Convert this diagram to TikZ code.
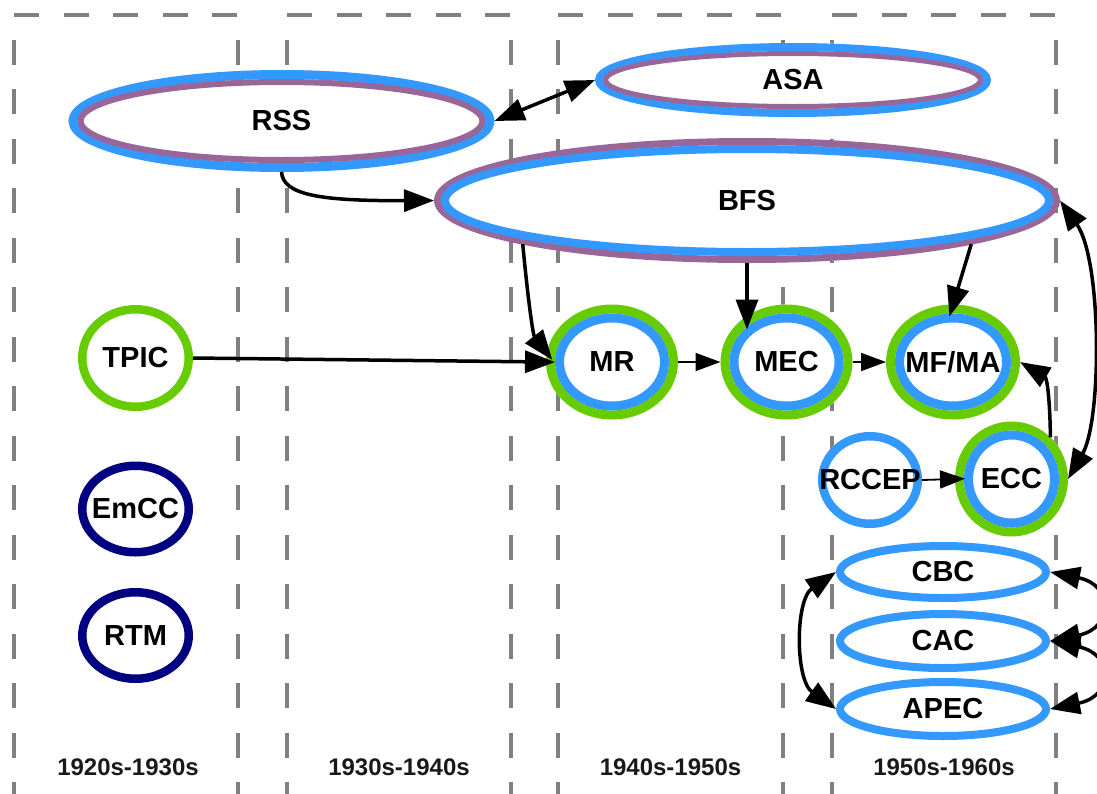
\documentclass[tikz,border=0pt]{standalone}
\usepackage{fontspec}
\setmainfont{Liberation Sans}
\usetikzlibrary{arrows.meta,shapes.geometric,calc}
\definecolor{cblue}{HTML}{3399FF}
\definecolor{cpurple}{HTML}{996699}
\definecolor{cgreen}{HTML}{66CC00}
\definecolor{cnavy}{HTML}{000080}
\definecolor{cgray}{HTML}{808080}
\pgfdeclarelayer{frames}
\pgfdeclarelayer{rings}
\pgfsetlayers{frames,rings,main}
\newcommand\drawring[5]{\draw[#1,line width=#2pt] (#3.center) ellipse [x radius=#4pt, y radius=#5pt];}
\newcommand\whitefill[3]{\fill[white] (#1.center) ellipse [x radius=#2pt, y radius=#3pt];}
\begin{document}
\begin{tikzpicture}[x=1pt,y=-1pt,
  nd/.style={ellipse, inner sep=0pt, outer sep=0pt, font=\fontsize{29}{34}\selectfont\bfseries},
  lbl/.style={font=\fontsize{24}{28}\selectfont\bfseries, text=black!90},
  frm/.style={cgray, line width=3.5pt, dash pattern=on 25pt off 24.5pt},
  frmv/.style={frm, dash phase=25pt},
  conn/.style={line width=3.5pt, black, -{Triangle[length=30pt,width=22pt]}},
  dconn/.style={line width=3.5pt, black, {Triangle[length=30pt,width=22pt]}-{Triangle[length=30pt,width=22pt]}},
  tconn/.style={line width=1.8pt, black, -{Triangle[length=25pt,width=18pt]}}
]
\useasboundingbox (0,0) rectangle (1097,793);

% cluster frames
\begin{pgfonlayer}{frames}
\foreach \l/\r in {14/238, 287/511, 558/783, 832/1056}{
  \draw[frm] (\l,15) -- (\r,15);
  \draw[frmv] (\l,15) -- (\l,810);
  \draw[frmv] (\r,15) -- (\r,810);
}
\end{pgfonlayer}

% cluster labels
\node[lbl] (L1) at (128,767) {1920s-1930s};
\node[lbl] (L2) at (399,767) {1930s-1940s};
\node[lbl] (L3) at (670.5,767) {1940s-1950s};
\node[lbl] (L4) at (944,767) {1950s-1960s};

% nodes
\node[nd, minimum width=426pt, minimum height=102pt] (RSS) at (281.5,121) {\makebox[0pt]{RSS}};
\node[nd, minimum width=396pt, minimum height=74pt] (ASA) at (793,80) {\makebox[0pt]{ASA}};
\node[nd, minimum width=626pt, minimum height=125pt] (BFS) at (747,200.5) {\makebox[0pt]{BFS}};
\node[nd, minimum width=115pt, minimum height=106pt] (TPIC) at (135.5,358) {\makebox[0pt]{TPIC}};
\node[nd, minimum width=115pt, minimum height=95pt] (EmCC) at (135.5,509) {\makebox[0pt]{EmCC}};
\node[nd, minimum width=115pt, minimum height=95pt] (RTM) at (135.5,635.5) {\makebox[0pt]{RTM}};
\node[nd, minimum width=132pt, minimum height=115pt] (MR) at (612,362) {\makebox[0pt]{MR}};
\node[nd, minimum width=132pt, minimum height=115pt] (MEC) at (786.5,362) {\makebox[0pt]{MEC}};
\node[nd, minimum width=134pt, minimum height=115pt] (MFMA) at (953,362) {\makebox[0pt]{MF/MA}};
\node[nd, minimum width=104pt, minimum height=96pt] (RCCEP) at (870,480) {\makebox[0pt]{RCCEP}};
\node[nd, minimum width=113pt, minimum height=115pt] (ECC) at (1011.5,479) {\makebox[0pt]{ECC}};
\node[nd, minimum width=214pt, minimum height=60pt] (CBC) at (943,572) {\makebox[0pt]{CBC}};
\node[nd, minimum width=214pt, minimum height=62pt] (CAC) at (943,641) {\makebox[0pt]{CAC}};
\node[nd, minimum width=214pt, minimum height=62pt] (APEC) at (943,709) {\makebox[0pt]{APEC}};

\begin{pgfonlayer}{rings}
\whitefill{RSS}{213}{51}
\drawring{cblue}{9}{RSS}{208.5}{46.5}
\drawring{cpurple}{6}{RSS}{201}{39}
\whitefill{ASA}{198}{37}
\drawring{cblue}{8}{ASA}{194}{33}
\drawring{cpurple}{5}{ASA}{187.5}{26.5}
\whitefill{BFS}{313}{62.5}
\drawring{cpurple}{7}{BFS}{309.5}{59}
\drawring{cblue}{8}{BFS}{302}{51.5}
\whitefill{TPIC}{57.5}{53}
\drawring{cgreen}{8.5}{TPIC}{53.25}{48.75}
\whitefill{EmCC}{57.5}{47.5}
\drawring{cnavy}{8.5}{EmCC}{53.25}{43.25}
\whitefill{RTM}{57.5}{47.5}
\drawring{cnavy}{8.5}{RTM}{53.25}{43.25}
\foreach \n in {MR,MEC}{
  \whitefill{\n}{66}{57.5}
  \drawring{cgreen}{9}{\n}{61.5}{53}
  \drawring{cblue}{9}{\n}{52.5}{44}
}
\whitefill{MFMA}{67}{57.5}
\drawring{cgreen}{9}{MFMA}{62.5}{53}
\drawring{cblue}{9}{MFMA}{53.5}{44}
\whitefill{ECC}{56.5}{57.5}
\drawring{cgreen}{9}{ECC}{52}{53}
\drawring{cblue}{9}{ECC}{43}{44}
\whitefill{RCCEP}{52}{48}
\drawring{cblue}{8.5}{RCCEP}{47.75}{43.75}
\whitefill{CBC}{107}{30}
\drawring{cblue}{8}{CBC}{103}{26}
\whitefill{CAC}{107}{31}
\drawring{cblue}{8}{CAC}{103}{27}
\whitefill{APEC}{107}{31}
\drawring{cblue}{8}{APEC}{103}{27}
\end{pgfonlayer}

% connectors
\draw[dconn] (RSS.east) -- (ASA.west);
\draw[conn] (RSS.south) .. controls (283,195) and (320,201) .. (BFS.west);
\draw[conn, shorten >=-9pt] (BFS.191.6) .. controls (528,300) and (533,335) .. (MR.172);
\draw[conn, shorten >=-25pt] (BFS.south) -- (BFS.south |- MEC.north);
\draw[conn, shorten >=-12.5pt] (BFS.349.3) -- (MFMA.north);
\draw[conn, shorten >=-9pt] (TPIC.east) -- (MR.west);
\draw[tconn] (MR.east) -- (MEC.west);
\draw[tconn] (MEC.east) -- (MFMA.west);
\draw[tconn, shorten >=-10pt] (RCCEP.east) -- (ECC.west);
\draw[conn] (ECC.47) .. controls (1050,400) and (1047,378) .. (MFMA.east);
\draw[dconn] (BFS.east) .. controls (1102,260) and (1102,420) .. (ECC.east);
\draw[dconn] (CBC.west) .. controls (795,600) and (795,680) .. (APEC.west);
\draw[dconn] (CBC.east) .. controls (1114,585) and (1114,628) .. (CAC.east);
\draw[dconn] (CAC.east) .. controls (1114,654) and (1114,696) .. (APEC.east);
\end{tikzpicture}
\end{document}
